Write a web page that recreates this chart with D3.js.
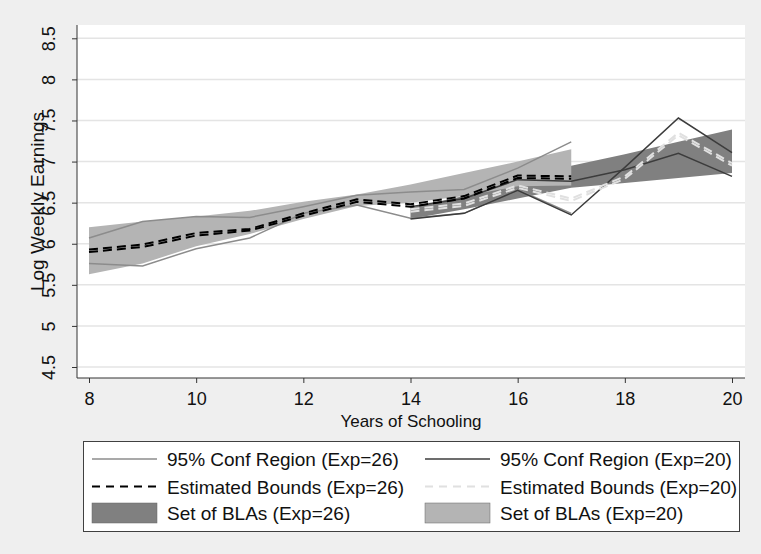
<!DOCTYPE html>
<html>
<head>
<meta charset="utf-8">
<script src="https://cdn.jsdelivr.net/npm/d3@7"></script>
<style>
  body { margin: 0; background: #efefef; }
  svg { display: block; font-family: "Liberation Sans", Arial, sans-serif; }
</style>
</head>
<body>
<svg id="mainsvg" width="761" height="554"></svg>
<script>
// years for each experience group
const years26 = [8, 9, 10, 11, 12, 13, 14, 15, 16, 17];
const years20 = [14, 15, 16, 17, 18, 19, 20];

// 95% conf region, Exp=26 (grey lines)
const conf26Upper = [6.07, 6.27, 6.33, 6.32, 6.45, 6.59, 6.63, 6.66, 6.92, 7.24];
const conf26Lower = [5.76, 5.73, 5.94, 6.07, 6.37, 6.47, 6.31, 6.37, 6.66, 6.37];
// 95% conf region, Exp=20 (dark lines)
const conf20A = [6.30, 6.37, 6.65, 6.35, 6.93, 7.53, 7.11];
const conf20B = [6.45, 6.55, 6.78, 6.76, 6.90, 7.10, 6.82];

// estimated bounds (two lines each)
const bound26Upper = [5.93, 5.99, 6.13, 6.18, 6.37, 6.54, 6.48, 6.58, 6.83, 6.82];
const bound26Lower = [5.90, 5.96, 6.10, 6.16, 6.34, 6.51, 6.45, 6.55, 6.80, 6.79];
const bound20Upper = [6.42, 6.49, 6.71, 6.55, 6.82, 7.35, 6.98];
const bound20Lower = [6.39, 6.46, 6.68, 6.52, 6.79, 7.32, 6.95];

// sets of BLAs (bands)
const blaLightTop = [6.20, 6.27, 6.33, 6.40, 6.51, 6.60, 6.72, 6.86, 7.00, 7.15];
const blaLightBot = [5.63, 5.76, 5.97, 6.12, 6.30, 6.46, 6.50, 6.58, 6.70, 6.71];
const blaDarkTop = [6.44, 6.58, 6.76, 6.95, 7.09, 7.24, 7.39];
const blaDarkBot = [6.30, 6.42, 6.55, 6.68, 6.74, 6.80, 6.86];

const yTicks = [4.5, 5, 5.5, 6, 6.5, 7, 7.5, 8, 8.5];
const xTicks = [8, 10, 12, 14, 16, 18, 20];

const legendItems = [
    { label: '95% Conf Region (Exp=26)', type: 'line', color: '#8c8c8c', dash: null },
    { label: '95% Conf Region (Exp=20)', type: 'line', color: '#3c3c3c', dash: null },
    { label: 'Estimated Bounds (Exp=26)', type: 'line', color: '#000000', dash: '8,6' },
    { label: 'Estimated Bounds (Exp=20)', type: 'line', color: '#e0e0e0', dash: '8,6' },
    { label: 'Set of BLAs (Exp=26)', type: 'box', color: '#808080' },
    { label: 'Set of BLAs (Exp=20)', type: 'box', color: '#b4b4b4' }
];

const svg = d3.select('#mainsvg');
const plot = { left: 77, right: 745, top: 25, bottom: 378 };

svg.append('rect')
    .attr('width', 761).attr('height', 554)
    .attr('fill', '#efefef');

svg.append('rect')
    .attr('x', plot.left).attr('y', plot.top)
    .attr('width', plot.right - plot.left)
    .attr('height', plot.bottom - plot.top)
    .attr('fill', '#ffffff');

const xScale = d3.scaleLinear().domain([8, 20]).range([89, 732]);
const yScale = d3.scaleLinear().domain([4.5, 8.5]).range([367, 38.3]);

// gridlines
svg.append('g').selectAll('line').data(yTicks).join('line')
    .attr('x1', plot.left).attr('x2', plot.right)
    .attr('y1', d => yScale(d)).attr('y2', d => yScale(d))
    .attr('stroke', '#e4e4e4')
    .attr('stroke-width', 1.5);

const zip = (xs, ys) => xs.map((x, i) => [x, ys[i]]);

const area = d3.area()
    .x(d => xScale(d[0]))
    .y0(d => yScale(d[1]))
    .y1(d => yScale(d[2]));
const line = d3.line()
    .x(d => xScale(d[0]))
    .y(d => yScale(d[1]));

// bands: dark first, light drawn over it
svg.append('path')
    .datum(years20.map((x, i) => [x, blaDarkBot[i], blaDarkTop[i]]))
    .attr('d', area)
    .attr('fill', '#808080');
svg.append('path')
    .datum(years26.map((x, i) => [x, blaLightBot[i], blaLightTop[i]]))
    .attr('d', area)
    .attr('fill', '#b4b4b4');

const drawLine = function(xs, ys, color, width, dash) {
    svg.append('path')
        .datum(zip(xs, ys))
        .attr('d', line)
        .attr('fill', 'none')
        .attr('stroke', color)
        .attr('stroke-width', width)
        .attr('stroke-dasharray', dash)
        .attr('stroke-linejoin', 'miter');
};

drawLine(years26, conf26Upper, '#8c8c8c', 1.5, null);
drawLine(years26, conf26Lower, '#8c8c8c', 1.5, null);
drawLine(years20, conf20A, '#3c3c3c', 1.5, null);
drawLine(years20, conf20B, '#3c3c3c', 1.5, null);
drawLine(years26, bound26Upper, '#000000', 2, '9,5');
drawLine(years26, bound26Lower, '#000000', 2, '9,5');
drawLine(years20, bound20Upper, '#e0e0e0', 2, '9,5');
drawLine(years20, bound20Lower, '#e0e0e0', 2, '9,5');

// axes
const yAxis = d3.axisLeft(yScale).tickValues(yTicks).tickSize(5).tickFormat(d3.format('~g'));
const yAxisGroup = svg.append('g')
    .attr('transform', `translate(${plot.left}, 0)`)
    .call(yAxis);
yAxisGroup.select('.domain')
    .attr('d', `M0,${plot.top}V${plot.bottom}`)
    .attr('stroke', '#333');
yAxisGroup.selectAll('.tick line').attr('stroke', '#333');
yAxisGroup.selectAll('.tick text')
    .attr('x', null).attr('dy', null)
    .attr('transform', 'translate(-22,0) rotate(-90)')
    .attr('text-anchor', 'middle')
    .attr('font-size', 18)
    .attr('fill', '#111');

const xAxis = d3.axisBottom(xScale).tickValues(xTicks).tickSize(5);
const xAxisGroup = svg.append('g')
    .attr('transform', `translate(0, ${plot.bottom})`)
    .call(xAxis);
xAxisGroup.select('.domain')
    .attr('d', `M${plot.left},0H${plot.right}`)
    .attr('stroke', '#333');
xAxisGroup.selectAll('.tick line').attr('stroke', '#333');
xAxisGroup.selectAll('.tick text')
    .attr('y', 27).attr('dy', null)
    .attr('font-size', 18)
    .attr('fill', '#111');

// axis titles
svg.append('text')
    .attr('transform', `translate(44, ${(plot.top + plot.bottom) / 2}) rotate(-90)`)
    .attr('text-anchor', 'middle')
    .attr('font-size', 19)
    .attr('fill', '#111')
    .text('Log Weekly Earnings');
svg.append('text')
    .attr('x', (plot.left + plot.right) / 2)
    .attr('y', 427)
    .attr('text-anchor', 'middle')
    .attr('font-size', 17)
    .attr('fill', '#111')
    .text('Years of Schooling');

// legend
const legend = svg.append('g');
legend.append('rect')
    .attr('x', 83.5).attr('y', 441.5)
    .attr('width', 656).attr('height', 90)
    .attr('fill', '#ffffff')
    .attr('stroke', '#404040');

const colX = [92, 425];
const rowY = [459, 486.5, 513];
legendItems.forEach((item, i) => {
    const cx = colX[i % 2];
    const cy = rowY[Math.floor(i / 2)];
    if (item.type === 'line') {
        legend.append('line')
            .attr('x1', cx).attr('x2', cx + 65)
            .attr('y1', cy).attr('y2', cy)
            .attr('stroke', item.color)
            .attr('stroke-width', item.dash ? 2 : 1.5)
            .attr('stroke-dasharray', item.dash);
    } else {
        legend.append('rect')
            .attr('x', cx).attr('y', cy - 10)
            .attr('width', 65).attr('height', 20)
            .attr('fill', item.color)
            .attr('stroke', '#666')
            .attr('stroke-width', 0.5);
    }
    legend.append('text')
        .attr('x', cx + 75)
        .attr('y', cy + 7)
        .attr('font-size', 19)
        .attr('fill', '#111')
        .text(item.label);
});
</script>
</body>
</html>
